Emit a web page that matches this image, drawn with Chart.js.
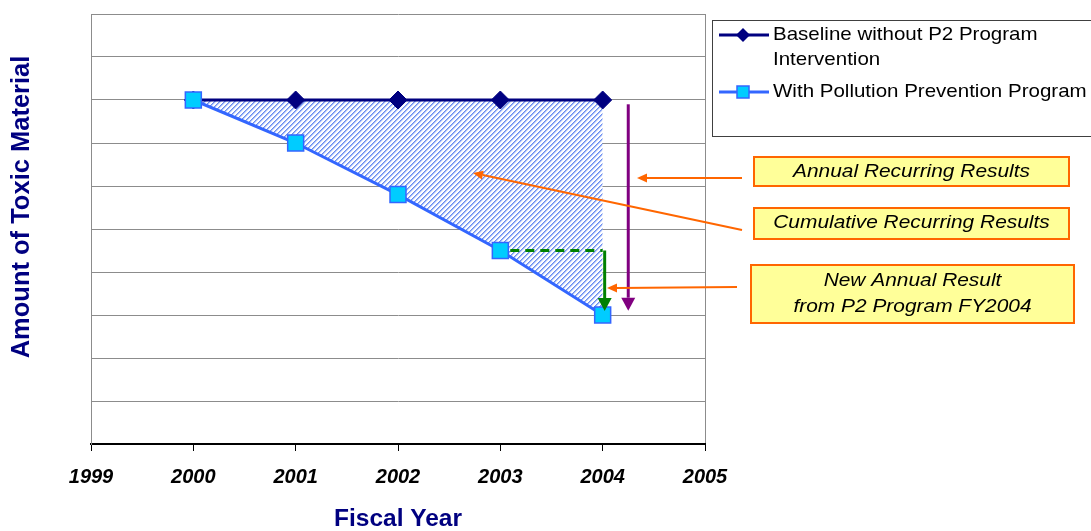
<!DOCTYPE html>
<html>
<head>
<meta charset="utf-8">
<script src="https://cdn.jsdelivr.net/npm/chart.js@4"></script>
<style>
html,body{margin:0;padding:0;background:#fff;}
#wrap{width:1091px;height:531px;position:relative;}
</style>
</head>
<body>
<div id="wrap"><canvas id="c" width="1091" height="531"></canvas></div>
<script>
// ---- data ----
const years = [2000, 2001, 2002, 2003, 2004];
const baseline = [8, 8, 8, 8, 8];
const withP2 = [8, 7, 5.8, 4.5, 3];
const seriesNames = ['Baseline without P2 Program\nIntervention', 'With Pollution Prevention Program'];
const xTitle = 'Fiscal Year';
const yTitle = 'Amount of Toxic Material';
const notes = ['Annual Recurring Results', 'Cumulative Recurring Results', 'New Annual Result\nfrom P2 Program FY2004'];

const FONT = '"Liberation Sans", Arial, sans-serif';

// hatch pattern for the area between the two series
function hatch() {
  const n = 5;
  const c = document.createElement('canvas');
  c.width = n; c.height = n;
  const g = c.getContext('2d');
  g.fillStyle = '#ffffff'; g.fillRect(0, 0, n, n);
  const cols = ['#6a8cf0', '#a3b9f6', '#e3eafc'];
  for (let x = 0; x < n; x++) for (let y = 0; y < n; y++) {
    const d = (x + y) % n;
    if (d < cols.length) { g.fillStyle = cols[d]; g.fillRect(x, y, 1, 1); }
  }
  return g.createPattern(c, 'repeat');
}

function arrow(ctx, x1, y1, x2, y2, color, lw, headLen, headW) {
  const a = Math.atan2(y2 - y1, x2 - x1);
  const bx = x2 - Math.cos(a) * headLen, by = y2 - Math.sin(a) * headLen;
  ctx.save();
  ctx.strokeStyle = color; ctx.fillStyle = color; ctx.lineWidth = lw;
  ctx.beginPath(); ctx.moveTo(x1, y1); ctx.lineTo(bx, by); ctx.stroke();
  ctx.beginPath();
  ctx.moveTo(x2, y2);
  ctx.lineTo(bx + Math.sin(a) * headW / 2, by - Math.cos(a) * headW / 2);
  ctx.lineTo(bx - Math.sin(a) * headW / 2, by + Math.cos(a) * headW / 2);
  ctx.closePath(); ctx.fill();
  ctx.restore();
}

// draw text stretched horizontally
function wideText(ctx, s, x, y, sx) {
  ctx.save();
  ctx.translate(x, y);
  ctx.scale(sx, 1);
  ctx.fillText(s, 0, 0);
  ctx.restore();
}

const decor = {
  id: 'decor',
  afterDatasetsDraw(chart) {
    const ctx = chart.ctx;
    const xs = chart.scales.x, ys = chart.scales.y;
    const x04 = xs.getPixelForValue(years[4]);
    const x03 = xs.getPixelForValue(years[3]);
    const y03 = ys.getPixelForValue(withP2[3]);
    const y04 = ys.getPixelForValue(withP2[4]);
    // green dashed line + arrow
    ctx.save();
    ctx.strokeStyle = '#008000'; ctx.lineWidth = 3; ctx.setLineDash([9, 6]);
    ctx.beginPath(); ctx.moveTo(x03 + 10, y03); ctx.lineTo(x04, y03); ctx.stroke();
    ctx.restore();
    arrow(ctx, x04 + 2, y03, x04 + 2, y04 - 4, '#008000', 3, 13, 14);
    // purple arrow
    const xp = xs.getPixelForValue(years[4] + 0.25);
    arrow(ctx, xp, ys.getPixelForValue(baseline[4] - 0.1), xp, ys.getPixelForValue(withP2[4] + 0.1), '#800080', 3, 13, 14);
  },
  afterDraw(chart) {
    const ctx = chart.ctx;
    // y title
    ctx.save();
    ctx.translate(22, 207);
    ctx.rotate(-Math.PI / 2);
    ctx.font = 'bold 25.5px ' + FONT;
    ctx.fillStyle = '#000080';
    ctx.textAlign = 'center'; ctx.textBaseline = 'middle';
    ctx.fillText(yTitle, 0, 0);
    ctx.restore();

    // legend
    ctx.save();
    ctx.fillStyle = '#fff';
    ctx.fillRect(712, 20, 385, 116);
    ctx.strokeStyle = '#404040'; ctx.lineWidth = 1;
    ctx.strokeRect(712.5, 20.5, 385, 116);
    ctx.font = '19px ' + FONT;
    ctx.fillStyle = '#000'; ctx.textAlign = 'left'; ctx.textBaseline = 'middle';
    // entry 1
    ctx.strokeStyle = '#000080'; ctx.lineWidth = 3;
    ctx.beginPath(); ctx.moveTo(719, 35); ctx.lineTo(769, 35); ctx.stroke();
    ctx.fillStyle = '#000080';
    ctx.beginPath(); ctx.moveTo(743, 28); ctx.lineTo(750, 35); ctx.lineTo(743, 42); ctx.lineTo(736, 35); ctx.closePath(); ctx.fill();
    ctx.fillStyle = '#000';
    const l1 = seriesNames[0].split('\n');
    wideText(ctx, l1[0], 773, 35, 1.08);
    wideText(ctx, l1[1], 773, 60, 1.08);
    // entry 2
    ctx.strokeStyle = '#3366ff'; ctx.lineWidth = 3;
    ctx.beginPath(); ctx.moveTo(719, 92); ctx.lineTo(769, 92); ctx.stroke();
    ctx.fillStyle = '#00ccff';
    ctx.fillRect(737, 86, 12, 12);
    ctx.strokeStyle = '#3366ff'; ctx.lineWidth = 1.5;
    ctx.strokeRect(737, 86, 12, 12);
    ctx.fillStyle = '#000';
    wideText(ctx, seriesNames[1], 773, 92, 1.08);
    ctx.restore();

    // annotation boxes
    const boxes = [
      {x: 754, y: 157, w: 315, h: 29, lines: [172]},
      {x: 754, y: 208, w: 315, h: 31, lines: [223]},
      {x: 751, y: 265, w: 323, h: 58, lines: [281, 307]}
    ];
    ctx.save();
    boxes.forEach((b, i) => {
      ctx.fillStyle = '#ffff99';
      ctx.fillRect(b.x, b.y, b.w, b.h);
      ctx.strokeStyle = '#ff6600'; ctx.lineWidth = 2;
      ctx.strokeRect(b.x, b.y, b.w, b.h);
      ctx.fillStyle = '#000';
      ctx.font = 'italic 19px ' + FONT;
      ctx.textAlign = 'center'; ctx.textBaseline = 'middle';
      const t = notes[i].split('\n');
      t.forEach((s, k) => wideText(ctx, s, b.x + b.w / 2, b.lines[k], 1.1));
    });
    ctx.restore();

    // orange pointer arrows
    arrow(ctx, 742, 178, 637, 178, '#ff6600', 2, 10, 9);
    arrow(ctx, 742, 230, 473, 173, '#ff6600', 2, 10, 9);
    arrow(ctx, 737, 287, 607, 288, '#ff6600', 2, 10, 9);
  }
};

new Chart(document.getElementById('c'), {
  type: 'line',
  data: {
    datasets: [
      {
        label: seriesNames[0],
        data: years.map((y, i) => ({x: y, y: baseline[i]})),
        borderColor: '#000080', borderWidth: 3,
        pointStyle: 'rectRot', pointRadius: 9, pointBackgroundColor: '#000080', pointBorderColor: '#000080', pointBorderWidth: 1,
        fill: false, order: 1, tension: 0
      },
      {
        label: seriesNames[1],
        data: years.map((y, i) => ({x: y, y: withP2[i]})),
        borderColor: '#3366ff', borderWidth: 3,
        pointStyle: 'rect', pointRadius: 11.3, pointBackgroundColor: '#00ccff', pointBorderColor: '#3366ff', pointBorderWidth: 1.5,
        fill: '-1', backgroundColor: hatch(), order: 0, tension: 0
      }
    ]
  },
  options: {
    responsive: false,
    animation: false,
    devicePixelRatio: 1,
    layout: {padding: {left: 0, top: 14, right: 386, bottom: 0}},
    plugins: {
      legend: {display: false},
      tooltip: {enabled: false},
      filler: {drawTime: 'beforeDatasetsDraw'}
    },
    scales: {
      x: {
        type: 'linear', min: 1999, max: 2005,
        afterFit(s) { s.height = 87; },
        ticks: {stepSize: 1, color: '#000', padding: 14, font: {family: FONT, size: 20, weight: 'bold', style: 'italic'}, callback: v => String(v)},
        grid: {
          drawOnChartArea: true, tickLength: 7, tickColor: '#000', tickWidth: 1,
          color: c => (c.tick && c.tick.value === 2005) ? '#8c8c8c' : 'rgba(0,0,0,0)'
        },
        border: {color: '#000', width: 2},
        title: {display: true, text: xTitle, color: '#000080', font: {family: FONT, size: 24.5, weight: 'bold', lineHeight: 1}, padding: {top: 0, bottom: 0}}
      },
      y: {
        min: 0, max: 10,
        afterFit(s) { s.width = 91; },
        ticks: {display: false, stepSize: 1},
        grid: {color: '#8c8c8c', lineWidth: 1, drawTicks: false, tickLength: 0},
        border: {color: '#8c8c8c', width: 1}
      }
    }
  },
  plugins: [decor]
});
</script>
</body>
</html>
